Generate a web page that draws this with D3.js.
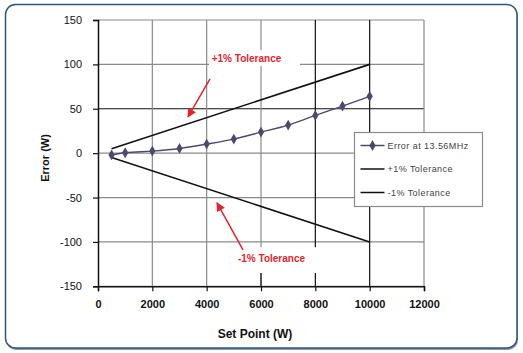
<!DOCTYPE html>
<html><head><meta charset="utf-8">
<script src="https://cdn.jsdelivr.net/npm/d3@7"></script>
<style>body{margin:0;background:#fff}svg{display:block}text{font-family:"Liberation Sans",Arial,sans-serif}</style>
</head><body>
<script>
const setPoints = [500,1000,2000,3000,4000,5000,6000,7000,8000,9000,10000];
const errorValues = [-2,0.4,2.3,5.3,10.2,15.8,23.7,31.6,42.5,53,64];
const tolX = [500,10000];
const plusTol = [5,100];
const minusTol = [-5,-100];
const xTicks = [0,2000,4000,6000,8000,10000,12000];
const yTicks = [-150,-100,-50,0,50,100,150];
const legendLabels = ["Error at 13.56MHz","+1% Tolerance","-1% Tolerance"];
// annotations in data units
const annotations = [
  {text:"+1% Tolerance", lx:5466, ly:102.7, from:[4123,83.6], to:[3313,40.8], box:[4085,7435,116,98]},
  {text:"-1% Tolerance", lx:6386, ly:-122.5, from:[5337,-109], to:[4380,-56], box:[4700,8300,-106,-135]}
];

const W=523,H=353;
const m={l:98,r:99,t:20,b:66.7};
const svg=d3.select("body").append("svg").attr("width",W).attr("height",H);
// frame
svg.append("rect").attr("x",6).attr("y",6).attr("width",512).attr("height",344).attr("rx",10).attr("fill","#8696a6");
svg.append("rect").attr("x",5.5).attr("y",4.5).attr("width",511.5).attr("height",343.5).attr("rx",10).attr("fill","#fff").attr("stroke","#2e5679").attr("stroke-width",1.5);

const x=d3.scaleLinear().domain([0,12000]).range([m.l,W-m.r]);
const y=d3.scaleLinear().domain([-150,150]).range([H-m.b,m.t]);
const g=svg.append("g");
// gridlines
g.selectAll(".hg").data(yTicks).join("line")
  .attr("x1",x(0)).attr("x2",x(12000)).attr("y1",d=>y(d)).attr("y2",d=>y(d))
  .attr("stroke",d=>d===50?"#111":"#8a8a8a").attr("stroke-width",1.2);
g.selectAll(".vg").data(xTicks.filter(d=>d>0)).join("line")
  .attr("x1",d=>x(d)).attr("x2",d=>x(d)).attr("y1",y(150)).attr("y2",y(-150))
  .attr("stroke",d=>(d===8000||d===10000)?"#111":"#8a8a8a").attr("stroke-width",1.2);
// 6000 lower segment darker
g.append("line").attr("x1",x(6000)).attr("x2",x(6000)).attr("y1",y(-135)).attr("y2",y(-150)).attr("stroke","#111").attr("stroke-width",1.2);

// label boxes
annotations.forEach(a=>{
  g.append("rect").attr("x",x(a.box[0])).attr("width",x(a.box[1])-x(a.box[0]))
   .attr("y",y(a.box[2])).attr("height",y(a.box[3])-y(a.box[2])).attr("fill","#fff");
});

// axes
const fmt=d=>String(d);
const xa=d3.axisBottom(x).tickValues(xTicks).tickSize(5).tickPadding(9).tickFormat(fmt);
const ya=d3.axisLeft(y).tickValues(yTicks).tickSize(5).tickPadding(11).tickFormat(fmt);
const gx=svg.append("g").attr("transform",`translate(0,${y(-150)})`).call(xa);
const gy=svg.append("g").attr("transform",`translate(${x(0)},0)`).call(ya);
[gx,gy].forEach(a=>{a.select(".domain").attr("stroke","#111").attr("stroke-width",1.5);
  a.selectAll(".tick line").attr("stroke","#111").attr("stroke-width",1.2);
  a.selectAll("text").attr("fill","#111").style("font-size","11px");});
gx.selectAll("text").style("font-weight","bold");
svg.append("text").attr("x",255).attr("y",338).attr("text-anchor","middle")
  .style("font-size","12px").style("font-weight","bold").attr("fill","#111").text("Set Point (W)");
svg.append("text").attr("transform",`translate(49,${158}) rotate(-90)`).attr("text-anchor","middle")
  .style("font-size","11px").style("font-weight","bold").attr("fill","#111").text("Error (W)");

// tolerance lines
const lineT=d3.line().x((d,i)=>x(tolX[i])).y(d=>y(d));
svg.append("path").attr("d",lineT(plusTol)).attr("fill","none").attr("stroke","#111").attr("stroke-width",1.6);
svg.append("path").attr("d",lineT(minusTol)).attr("fill","none").attr("stroke","#111").attr("stroke-width",1.6);
// error series
const col="#4b4a6e";
const lineE=d3.line().x((d,i)=>x(setPoints[i])).y(d=>y(d)).curve(d3.curveMonotoneX);
svg.append("path").attr("d",lineE(errorValues)).attr("fill","none").attr("stroke",col).attr("stroke-width",1.4);
const diamond=d3.symbol().type(d3.symbolDiamond).size(34);
svg.selectAll(".pt").data(errorValues).join("path")
  .attr("transform",(d,i)=>`translate(${x(setPoints[i])},${y(d)})`).attr("d",diamond).attr("fill",col);

// annotations
const red="#e3242b";
svg.append("defs").append("marker").attr("id","ah").attr("viewBox","0 0 10 10").attr("refX",9).attr("refY",5)
  .attr("markerWidth",6).attr("markerHeight",6).attr("orient","auto").attr("markerUnits","strokeWidth")
  .append("path").attr("d","M0,0L10,5L0,10Z").attr("fill",red);
annotations.forEach(a=>{
  svg.append("line").attr("x1",x(a.from[0])).attr("y1",y(a.from[1])).attr("x2",x(a.to[0])).attr("y2",y(a.to[1]))
    .attr("stroke",red).attr("stroke-width",1.5).attr("marker-end","url(#ah)");
  svg.append("text").attr("x",x(a.lx)).attr("y",y(a.ly)).attr("text-anchor","middle")
    .style("font-size","10px").style("font-weight","bold").attr("fill",red).text(a.text);
});

// legend
const lg=svg.append("g").attr("transform","translate(354.5,132.5)");
lg.append("rect").attr("width",128).attr("height",74).attr("fill","#fff").attr("stroke","#8a8a8a").attr("stroke-width",1.2);
legendLabels.forEach((t,i)=>{
  const yy=13+i*23.5;
  lg.append("line").attr("x1",6).attr("x2",30).attr("y1",yy).attr("y2",yy)
    .attr("stroke",i===0?col:"#111").attr("stroke-width",1.5);
  if(i===0) lg.append("path").attr("transform",`translate(18,${yy})`).attr("d",diamond).attr("fill",col);
  lg.append("text").attr("x",33).attr("y",yy+3.3).style("font-size","9px").style("letter-spacing","0.45px").attr("fill","#444").text(t);
});
</script>
</body></html>
